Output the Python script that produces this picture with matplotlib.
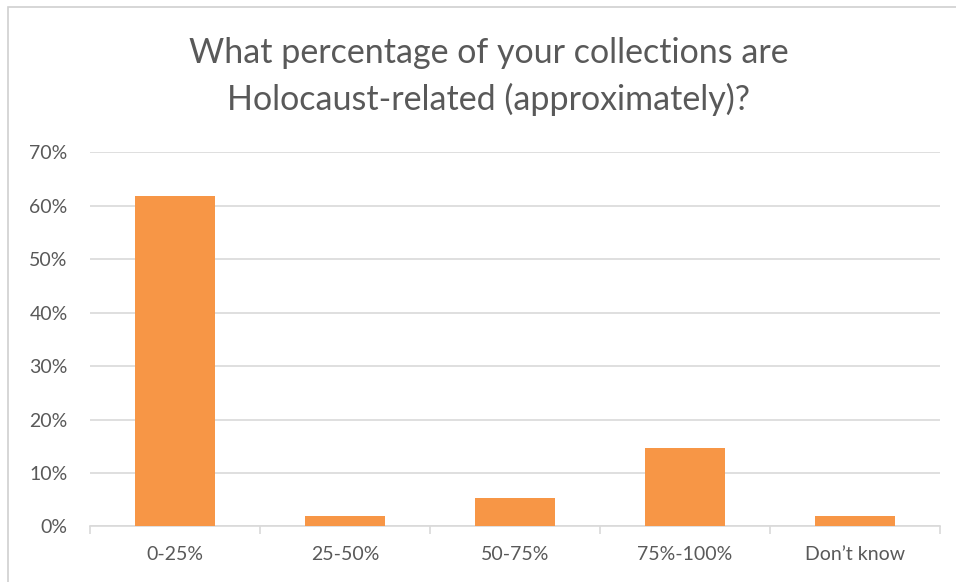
import matplotlib
matplotlib.use("Agg")
import matplotlib.pyplot as plt
from matplotlib.patches import Rectangle

# Data
categories = ["0-25%", "25-50%", "50-75%", "75%-100%", "Don\u2019t know"]
shares = [0.619, 0.019, 0.053, 0.146, 0.019]
y_ticks = [0.0, 0.1, 0.2, 0.3, 0.4, 0.5, 0.6, 0.7]
title = "What percentage of your collections are\nHolocaust-related (approximately)?"

plt.rcParams['font.family'] = ['Lato', 'DejaVu Sans']
text_color = "#595959"
grid_color = "#d9d9d9"

fig = plt.figure(figsize=(9.56, 5.82), dpi=100)
ax = fig.add_axes([0.094, 0.0954, 0.889, 0.6426])

x = list(range(len(categories)))
ax.bar(x, shares, width=0.47, color="#F79646", zorder=3)

ax.set_xlim(-0.5, len(categories) - 0.5)
ax.set_ylim(0, 0.7)
ax.set_yticks(y_ticks)
ax.set_yticklabels([f"{int(round(v * 100))}%" for v in y_ticks])
ax.yaxis.grid(True, color=grid_color, linewidth=1.2, zorder=0)
ax.tick_params(axis="y", length=0, pad=16, labelsize=14, labelcolor=text_color)

# category labels centred, tick marks between categories
ax.set_xticks(x)
ax.set_xticklabels(categories)
ax.tick_params(axis="x", length=0, pad=14, labelsize=14, labelcolor=text_color)
ax.set_xticks([i - 0.5 for i in range(len(categories) + 1)], minor=True)
ax.tick_params(axis="x", which="minor", length=6, color=grid_color, width=1.2)

for side in ["left", "right", "top"]:
    ax.spines[side].set_visible(False)
ax.spines["bottom"].set_color(grid_color)
ax.spines["bottom"].set_linewidth(1.2)

fig.text(0.511, 0.869, title, ha="center", va="center", fontsize=24.5,
         color=text_color, linespacing=1.5)

# chart border
fig.patches.append(Rectangle((8 / 956, -0.1), 1.2, 1.1 - 7 / 582, transform=fig.transFigure,
                             fill=False, edgecolor="#d0d0d0", linewidth=1.2))

fig.savefig("out.png", dpi=100)
